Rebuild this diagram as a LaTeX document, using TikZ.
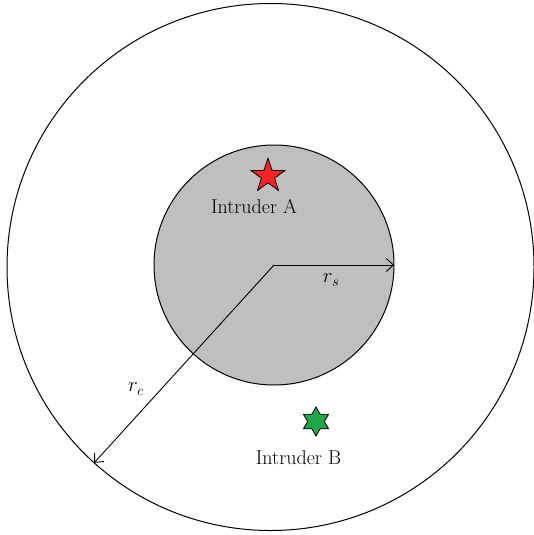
\documentclass[tikz,border=0pt]{standalone}
\usetikzlibrary{shapes.geometric,arrows.meta}
\definecolor{intruderred}{RGB}{245,35,35}
\definecolor{intrudergreen}{RGB}{34,165,70}
\begin{document}
\begin{tikzpicture}[
                x=1pt, y=-1pt,
                every node/.style={inner sep=0pt, outer sep=0pt},
                ring/.style={circle, draw, line width=1pt},
                radius arrow/.style={line width=0.9pt, -{Straight Barb[length=7pt,width=13pt]}},
                label text/.style={font=\fontsize{20}{24}\selectfont}
            ]
                \useasboundingbox (0,0) rectangle (534,535);
                
                % Communication range and sensing range
                \node[ring, minimum size=527pt] (outer) at (270.5,267) {};
                \node[ring, fill=gray!50, minimum size=240pt] (inner) at (274,265) {};
                \coordinate (c) at (274,265);
                
                % Radii
                \draw[radius arrow] (c) -- (outer.228.8);
                \draw[radius arrow] (c) -- (inner.east);
                \node[label text] (rs) at (331,280) {$r_s$};
                \node[label text] (rc) at (136,389) {$r_c$};
                
                % Intruders
                \node[star, star points=5, star point ratio=2.55, minimum size=35.5pt,
                      draw, line width=0.8pt, fill=intruderred] (A) at (268,176) {};
                \node[label text] (labA) at (254,207) {Intruder A};
                \node[star, star points=6, star point ratio=1.73, minimum size=29pt,
                      draw, line width=0.8pt, fill=intrudergreen] (B) at (316,421.5) {};
                \node[label text] (labB) at (298.5,458) {Intruder B};
            \end{tikzpicture}
\end{document}
